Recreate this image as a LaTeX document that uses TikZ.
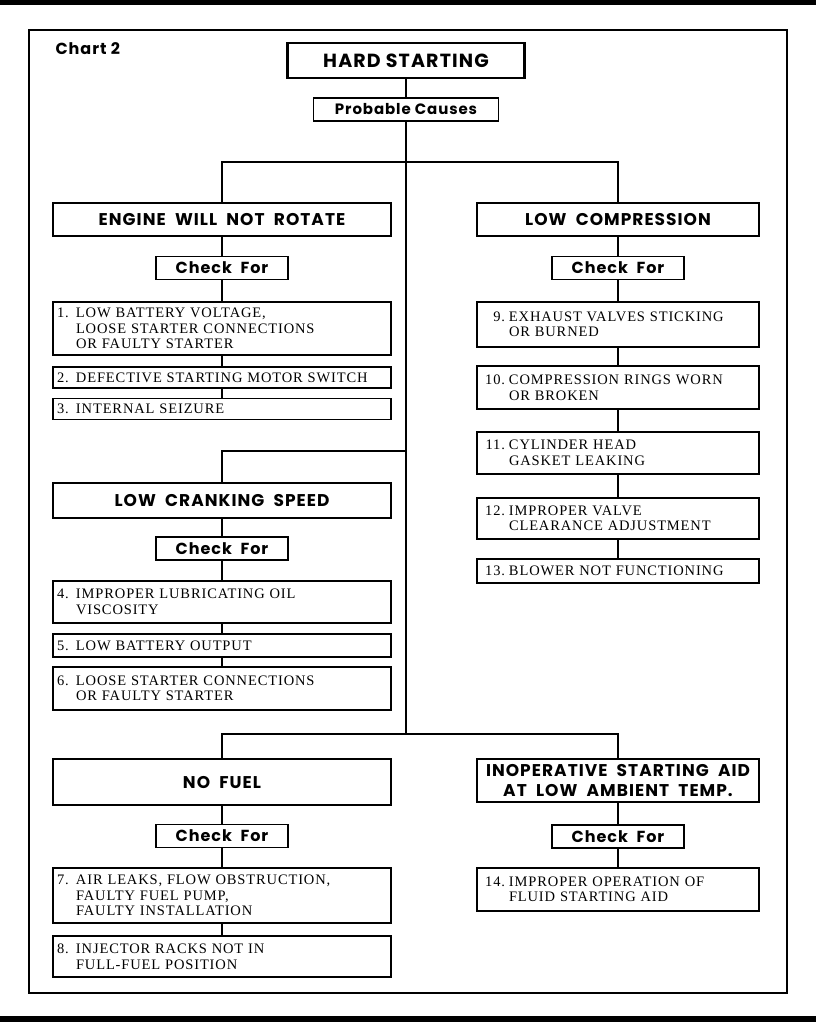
\documentclass[tikz,border=0pt]{standalone}
\usepackage{fontspec}
\setmainfont{Liberation Serif}
\newfontfamily\headfont[LetterSpace=6]{Poppins}
\newfontfamily\itemfont[LetterSpace=6]{Liberation Serif}
\usepackage{tikz}

% number in front of a cause, and the indent of its next lines
\newcommand{\lnum}[1]{\makebox[19pt][l]{#1}}
\newcommand{\lcont}{\hspace*{19pt}}
\newcommand{\rnum}[1]{\makebox[22pt][r]{#1}\hspace*{4pt}}
\newcommand{\rcont}{\hspace*{26pt}}

\begin{document}
\begin{tikzpicture}[
    x=1pt, y=-1pt,
    conn/.style={line width=1.5pt},
    title box/.style={draw, line width=2.2pt, minimum width=237pt, minimum height=35pt,
        inner sep=0pt, font=\headfont\bfseries\fontsize{19}{20}\selectfont},
    sub box/.style={draw, line width=1.6pt, minimum width=185pt, minimum height=23pt,
        inner sep=0pt, font=\headfont\bfseries\fontsize{15}{16}\selectfont},
    group box/.style={draw, line width=1.6pt, inner sep=0pt, align=center,
        font=\headfont\bfseries\fontsize{17}{20}\selectfont},
    left group/.style={group box, minimum width=338pt, minimum height=#1},
    right group/.style={group box, minimum width=282pt, minimum height=#1},
    check box/.style={draw, line width=1.6pt, minimum width=132pt, minimum height=23pt,
        inner sep=0pt, font=\headfont\bfseries\fontsize{16}{16}\selectfont},
    cause/.style={draw, line width=1.6pt, align=left, inner ysep=0pt,
        font=\itemfont\fontsize{14.5}{15.5}\selectfont},
    left cause/.style={cause, text width=330pt, inner xsep=4pt, minimum height=#1},
    right cause/.style={cause, text width=270pt, inner xsep=6pt, minimum height=#1}
]

\useasboundingbox (0,0) rectangle (816,1022);

% Page bands and frame
\fill (0,0) rectangle (816,5);
\fill (0,1016) rectangle (816,1022);
\draw[line width=1.8pt] (29,30) rectangle (787,993);

\node[anchor=base west, font=\headfont\bfseries\fontsize{16}{16}\selectfont] (chart) at (52,55) {Chart 2};

% ==================== TOP ====================
\node[title box] (hard) at (406,60.5) {HARD STARTING};
\node[sub box] (prob) at (406,109.5) {Probable Causes};

\coordinate (split1) at (406,162);
\coordinate (split2) at (406,451);
\coordinate (split3) at (406,734);

% ==================== LEFT COLUMN ====================
\node[left group=33] (engine) at (222,219.5) {ENGINE\ \ WILL\ \ NOT\ \ ROTATE};
\node[check box] (chk1) at (222,268) {Check\ \ For};
\node[left cause=53] (c1) at (222,328.5) {\lnum{1.}LOW BATTERY VOLTAGE,\\
    \lcont LOOSE STARTER CONNECTIONS\\
    \lcont OR FAULTY STARTER};
\node[left cause=21] (c2) at (222,377.5) {\lnum{2.}DEFECTIVE STARTING MOTOR SWITCH};
\node[left cause=21] (c3) at (222,409) {\lnum{3.}INTERNAL SEIZURE};

\node[left group=35] (crank) at (222,500.5) {LOW\ \ CRANKING\ \ SPEED};
\node[check box] (chk2) at (222,548.5) {Check\ \ For};
\node[left cause=42] (c4) at (222,602) {\lnum{4.}IMPROPER LUBRICATING OIL\\
    \lcont VISCOSITY};
\node[left cause=23] (c5) at (222,645.5) {\lnum{5.}LOW BATTERY OUTPUT};
\node[left cause=43] (c6) at (222,688.5) {\lnum{6.}LOOSE STARTER CONNECTIONS\\
    \lcont OR FAULTY STARTER};

\node[left group=46] (fuel) at (222,782) {NO\ \ FUEL};
\node[check box] (chk3) at (222,836) {Check\ \ For};
\node[left cause=55] (c7) at (222,895.5) {\lnum{7.}AIR LEAKS, FLOW OBSTRUCTION,\\
    \lcont FAULTY FUEL PUMP,\\
    \lcont FAULTY INSTALLATION};
\node[left cause=41] (c8) at (222,956.5) {\lnum{8.}INJECTOR RACKS NOT IN\\
    \lcont FULL-FUEL POSITION};

% ==================== RIGHT COLUMN ====================
\node[right group=33] (comp) at (618,219.5) {LOW\ \ COMPRESSION};
\node[check box] (chk4) at (618,268) {Check\ \ For};
\node[right cause=45] (c9) at (618,324.5) {\rnum{9.}EXHAUST VALVES STICKING\\
    \rcont OR BURNED};
\node[right cause=43] (c10) at (618,387.5) {\rnum{10.}COMPRESSION RINGS WORN\\
    \rcont OR BROKEN};
\node[right cause=42] (c11) at (618,453) {\rnum{11.}CYLINDER HEAD\\
    \rcont GASKET LEAKING};
\node[right cause=41] (c12) at (618,518.5) {\rnum{12.}IMPROPER VALVE\\
    \rcont CLEARANCE ADJUSTMENT};
\node[right cause=24] (c13) at (618,571) {\rnum{13.}BLOWER NOT FUNCTIONING};

\node[right group=43] (aid) at (618,780.5) {INOPERATIVE\ \ STARTING\ \ AID\\AT\ \ LOW\ \ AMBIENT\ \ TEMP.};
\node[check box] (chk5) at (618,836.5) {Check\ \ For};
\node[right cause=43] (c14) at (618,889.5) {\rnum{14.}IMPROPER OPERATION OF\\
    \rcont FLUID STARTING AID};

% ==================== CONNECTORS ====================
\draw[conn] (hard) -- (prob);
\draw[conn] (prob) -- (split3);
\draw[conn] (engine.north) |- (split1) -| (comp.north);
\draw[conn] (crank.north) |- (split2);
\draw[conn] (fuel.north) |- (split3) -| (aid.north);

\draw[conn] (engine) -- (chk1);
\draw[conn] (chk1) -- (c1);
\draw[conn] (c1) -- (c2);
\draw[conn] (c2) -- (c3);

\draw[conn] (crank) -- (chk2);
\draw[conn] (chk2) -- (c4);
\draw[conn] (c4) -- (c5);
\draw[conn] (c5) -- (c6);

\draw[conn] (fuel) -- (chk3);
\draw[conn] (chk3) -- (c7);
\draw[conn] (c7) -- (c8);

\draw[conn] (comp) -- (chk4);
\draw[conn] (chk4) -- (c9);
\draw[conn] (c9) -- (c10);
\draw[conn] (c10) -- (c11);
\draw[conn] (c11) -- (c12);
\draw[conn] (c12) -- (c13);

\draw[conn] (aid) -- (chk5);
\draw[conn] (chk5) -- (c14);

\end{tikzpicture}
\end{document}
